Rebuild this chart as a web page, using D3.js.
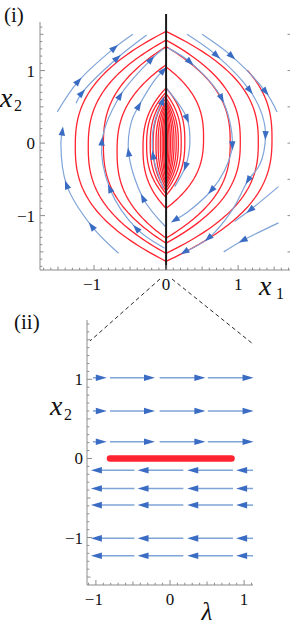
<!DOCTYPE html>
<html><head><meta charset="utf-8">
<script src="https://cdn.jsdelivr.net/npm/d3@7/dist/d3.min.js"></script>
<style>body{margin:0;background:#fff}svg{display:block}</style>
</head><body>
<script>
// ---------- data ----------
const xTicks1 = [-1, 0, 1];
const yTicks1 = [-1, 0, 1];
const xTicks2 = [-1, 0, 1];
const yTicks2 = [-1, 0, 1];
const tickText = {"-1": "\u22121", "0": "0", "1": "1"};

// red trajectory arcs on the right half: [top, bottom, max |x1|, start fraction]
const redRight = [
  [1.75, -1.63, 1.47, 0.22],
  [1.54, -1.52, 1.28, 0],
  [1.42, -1.38, 1.03, 0],
  [1.33, -1.31, 0.89, 0],
  [1.05, -0.90, 0.52, 0],
  [0.76, -0.72, 0.26, 0],
  [0.68, -0.66, 0.21, 0],
  [0.62, -0.62, 0.17, 0],
  [0.58, -0.58, 0.14, 0],
  [0.55, -0.55, 0.11, 0],
  [0.52, -0.52, 0.085, 0],
  [0.48, -0.48, 0.06, 0],
  [0.44, -0.44, 0.04, 0],
  [0.40, -0.40, 0.02, 0]
];
// red trajectory arcs on the left half: [bottom, top, max |x1|]
const redLeft = [
  [-1.63, 1.54, 1.26],
  [-1.52, 1.42, 1.08],
  [-1.38, 1.33, 0.87],
  [-1.31, 1.08, 0.68],
  [-0.90, 0.76, 0.32],
  [-0.75, 0.70, 0.27],
  [-0.70, 0.66, 0.22],
  [-0.66, 0.62, 0.18],
  [-0.62, 0.58, 0.14],
  [-0.58, 0.55, 0.11],
  [-0.55, 0.52, 0.08],
  [-0.50, 0.48, 0.055],
  [-0.46, 0.44, 0.035],
  [-0.42, 0.40, 0.018]
];
// blue stream lines, points in flow order [x1, x2, arrowFlag]
const blueStreams = [
  [[-0.66,-1.52],[-1.03,-1.15,1],[-1.38,-0.58,1],[-1.46,0.0],[-1.44,0.16,1]],
  [[-1.51,0.43],[-1.22,0.85,1],[-0.72,1.31,1],[-0.46,1.50]],
  [[-1.25,0.55],[-1.17,0.69,1],[-0.68,1.17,1],[-0.27,1.49]],
  [[-0.02,-1.45],[-0.41,-1.18,1],[-0.78,-0.63,1],[-0.89,0.02,1],[-0.64,0.65,1],[-0.21,1.15,1],[-0.04,1.30]],
  [[-0.01,-1.15],[-0.32,-0.76,1],[-0.52,-0.13,1],[-0.48,0.30],[-0.38,0.51,1],[-0.15,0.88],[-0.04,1.0,1]],
  [[-0.04,-0.62],[-0.18,-0.17,1],[-0.17,0.25],[-0.05,0.58,1]],
  [[0.50,1.50],[0.91,1.20,1],[1.38,0.71,1],[1.54,0.43]],
  [[0.29,1.50],[0.70,1.21,1],[1.16,0.73,1],[1.33,0.40],[1.38,0.11,1],[1.30,-0.30],[1.14,-0.51,1],[0.92,-0.92],[0.59,-1.31,1],[0.26,-1.50,1]],
  [[0.03,1.31],[0.33,1.12,1],[0.77,0.62,1],[0.92,-0.03,1],[0.80,-0.40],[0.63,-0.65,1],[0.30,-0.95],[0.125,-1.06,1]],
  [[0.01,0.75],[0.29,0.34,1],[0.33,0.0],[0.27,-0.32,1],[0.12,-0.60]],
  [[1.56,-0.60],[1.17,-0.92,1],[0.95,-1.08]],
  [[1.56,-1.10],[1.07,-1.34,1],[0.80,-1.50]]
];

// panel (ii): rows of lambda-direction flow
const rowsRight2 = [1.02, 0.60, 0.21];
const rowsLeft2 = [-0.15, -0.38, -0.59, -1.01, -1.23];
const segRight2 = [[-1.04,-0.86],[-0.81,-0.21],[-0.14,0.47],[0.51,1.12]];
const segLeft2 = [[-0.48,-1.06],[0.18,-0.43],[0.85,0.24],[1.12,0.90]];
const redBar2 = [-0.81, 0.83];

// ---------- drawing ----------
const W = 291, H = 630;
const FONT = "'Liberation Serif','Times New Roman',serif";
const RED = "#ff2430", BLUE_LINE = "#7fa4d8", BLUE_HEAD = "#3b6cc3", AXIS = "#8c8c8c";

const svg = d3.select("body").append("svg").attr("width", W).attr("height", H);

const x1 = d3.scaleLinear().domain([-1.75, 1.72]).range([40, 290]);
const y1 = d3.scaleLinear().domain([-1.75, 1.67]).range([270, 22]);
const x2 = d3.scaleLinear().domain([-1.12, 1.12]).range([87, 253]);
const y2 = d3.scaleLinear().domain([-1.60, 1.75]).range([585, 320]);

svg.append("clipPath").attr("id", "clip1").append("rect")
  .attr("x", x1.range()[0]).attr("y", y1.range()[1])
  .attr("width", x1.range()[1] - x1.range()[0]).attr("height", y1.range()[0] - y1.range()[1]);

function lens(side, a, b, xm, u0) {
  const n = 90, pts = [];
  for (let i = 0; i <= n; i++) {
    const u = u0 + (1 - u0) * i / n;
    const y = a + (b - a) * u;
    const t = 2 * u - 1;
    pts.push([side * xm * (1 - Math.pow(Math.abs(t), 2.5)), y]);
  }
  return pts;
}

const g1 = svg.append("g").attr("clip-path", "url(#clip1)");
const line1 = d3.line().x(d => x1(d[0])).y(d => y1(d[1]));
redRight.forEach(r => {
  g1.append("path").attr("d", line1(lens(1, r[0], r[1], r[2], r[3])))
    .attr("fill", "none").attr("stroke", RED).attr("stroke-width", 1.3);
});
redLeft.forEach(r => {
  g1.append("path").attr("d", line1(lens(-1, r[0], r[1], r[2], 0)))
    .attr("fill", "none").attr("stroke", RED).attr("stroke-width", 1.3);
});

function arrowHead(g, px, py, dx, dy, len, half) {
  const L = Math.hypot(dx, dy) || 1; dx /= L; dy /= L;
  const tip = [px + dx * len * 0.55, py + dy * len * 0.55];
  const bx = px - dx * len * 0.45, by = py - dy * len * 0.45;
  const p1 = [bx - dy * half, by + dx * half];
  const p2 = [bx + dy * half, by - dx * half];
  g.append("path").attr("d", `M${tip[0]},${tip[1]}L${p1[0]},${p1[1]}L${p2[0]},${p2[1]}Z`)
    .attr("fill", BLUE_HEAD).attr("stroke", "none");
}

const streamLine = d3.line().x(d => x1(d[0])).y(d => y1(d[1])).curve(d3.curveCatmullRom.alpha(0.5));
blueStreams.forEach(s => {
  g1.append("path").attr("d", streamLine(s)).attr("fill", "none")
    .attr("stroke", BLUE_LINE).attr("stroke-width", 1.2);
});
blueStreams.forEach(s => {
  s.forEach((p, i) => {
    if (!p[2]) return;
    const a = s[Math.max(0, i - 1)], b = s[Math.min(s.length - 1, i + 1)];
    const dx = x1(b[0]) - x1(a[0]), dy = y1(b[1]) - y1(a[1]);
    arrowHead(g1, x1(p[0]), y1(p[1]), dx, dy, 9, 3.2);
  });
});

// black switching line x1 = 0
svg.append("line").attr("x1", x1(0)).attr("x2", x1(0)).attr("y1", 14).attr("y2", y1.range()[0])
  .attr("stroke", "#1a1a1a").attr("stroke-width", 2);

// panel (i) frame and ticks
const ax1 = svg.append("g").attr("stroke", AXIS).attr("stroke-width", 1).attr("fill", "none");
ax1.append("line").attr("x1", x1.range()[0]).attr("x2", x1.range()[0]).attr("y1", y1.range()[1]).attr("y2", y1.range()[0]);
ax1.append("line").attr("x1", x1.range()[0]).attr("x2", x1.range()[1]).attr("y1", y1.range()[0]).attr("y2", y1.range()[0]);
function tickLen(v) { const r = Math.round(v * 10); return r % 10 === 0 ? 5 : (r % 5 === 0 ? 3.5 : 2.3); }
d3.range(-17, 17).map(k => k / 10).forEach(v => {
  const yy = y1(v), L = tickLen(v);
  ax1.append("line").attr("x1", x1.range()[0]).attr("x2", x1.range()[0] + L).attr("y1", yy).attr("y2", yy);
});
d3.range(-17, 18).map(k => k / 10).forEach(v => {
  const xx = x1(v), L = tickLen(v);
  ax1.append("line").attr("x1", xx).attr("x2", xx).attr("y1", y1.range()[0]).attr("y2", y1.range()[0] - L);
});
d3.range(-3, 4).map(k => k / 2).forEach(v => {
  const yy = y1(v);
  ax1.append("line").attr("x1", x1.range()[1]).attr("x2", x1.range()[1] - 2.5).attr("y1", yy).attr("y2", yy);
});

const txt = svg.append("g").attr("font-family", FONT).attr("fill", "#111");
yTicks1.forEach(v => txt.append("text").attr("x", 35).attr("y", y1(v) + 6)
  .attr("text-anchor", "end").attr("font-size", 17).text(tickText[v]));
xTicks1.forEach(v => txt.append("text").attr("x", x1(v) + (v < 0 ? -2 : 0)).attr("y", 290)
  .attr("text-anchor", "middle").attr("font-size", 17).text(tickText[v]));
txt.append("text").attr("x", 4).attr("y", 22).attr("font-size", 21).text("(i)");
txt.append("text").attr("x", 0).attr("y", 107).attr("font-size", 28).attr("font-style", "italic").text("x");
txt.append("text").attr("x", 14).attr("y", 111).attr("font-size", 16).text("2");
txt.append("text").attr("x", 259).attr("y", 295).attr("font-size", 28).attr("font-style", "italic").text("x");
txt.append("text").attr("x", 276).attr("y", 299).attr("font-size", 16).text("1");

// dashed zoom lines
svg.append("line").attr("x1", 160).attr("y1", 279).attr("x2", 90).attr("y2", 341)
  .attr("stroke", "#111").attr("stroke-width", 0.9).attr("stroke-dasharray", "4,3");
svg.append("line").attr("x1", 172).attr("y1", 279).attr("x2", 253).attr("y2", 344)
  .attr("stroke", "#111").attr("stroke-width", 0.9).attr("stroke-dasharray", "4,3");

// ---------- panel (ii) ----------
const g2 = svg.append("g");
g2.append("line").attr("x1", x2(redBar2[0])).attr("x2", x2(redBar2[1])).attr("y1", y2(0)).attr("y2", y2(0))
  .attr("stroke", RED).attr("stroke-width", 6.5).attr("stroke-linecap", "round");

function flowRow(yv, segs) {
  segs.forEach(sg => {
    const xs = x2(sg[0]), xe = x2(sg[1]), yy = y2(yv);
    const dir = Math.sign(xe - xs);
    g2.append("line").attr("x1", xs).attr("x2", xe - dir * 4).attr("y1", yy).attr("y2", yy)
      .attr("stroke", BLUE_LINE).attr("stroke-width", 1.5);
    arrowHead(g2, xe - dir * 5.5, yy, dir, 0, 11, 3.3);
  });
}
rowsRight2.forEach(r => flowRow(r, segRight2));
rowsLeft2.forEach(r => flowRow(r, segLeft2));

const ax2 = svg.append("g").attr("stroke", AXIS).attr("stroke-width", 1).attr("fill", "none");
ax2.append("line").attr("x1", x2.range()[0]).attr("x2", x2.range()[0]).attr("y1", y2.range()[1]).attr("y2", y2.range()[0]);
ax2.append("line").attr("x1", x2.range()[0]).attr("x2", x2.range()[1]).attr("y1", y2.range()[0]).attr("y2", y2.range()[0]);
d3.range(-15, 18).map(k => k / 10).forEach(v => {
  const yy = y2(v), L = tickLen(v);
  ax2.append("line").attr("x1", x2.range()[0]).attr("x2", x2.range()[0] + L).attr("y1", yy).attr("y2", yy);
});
d3.range(-11, 12).map(k => k / 10).forEach(v => {
  const xx = x2(v), L = tickLen(v);
  ax2.append("line").attr("x1", xx).attr("x2", xx).attr("y1", y2.range()[0]).attr("y2", y2.range()[0] - L);
});

yTicks2.forEach(v => txt.append("text").attr("x", 83).attr("y", y2(v) + 6)
  .attr("text-anchor", "end").attr("font-size", 17).text(tickText[v]));
xTicks2.forEach(v => txt.append("text").attr("x", x2(v) + (v < 0 ? -2 : 0)).attr("y", 605)
  .attr("text-anchor", "middle").attr("font-size", 17).text(tickText[v]));
txt.append("text").attr("x", 14).attr("y", 329).attr("font-size", 21).text("(ii)");
txt.append("text").attr("x", 50).attr("y", 415).attr("font-size", 28).attr("font-style", "italic").text("x");
txt.append("text").attr("x", 64).attr("y", 420).attr("font-size", 16).text("2");
txt.append("text").attr("x", 207).attr("y", 620).attr("text-anchor", "middle").attr("font-size", 25)
  .attr("font-style", "italic").text("\u03BB");
</script>
</body></html>
